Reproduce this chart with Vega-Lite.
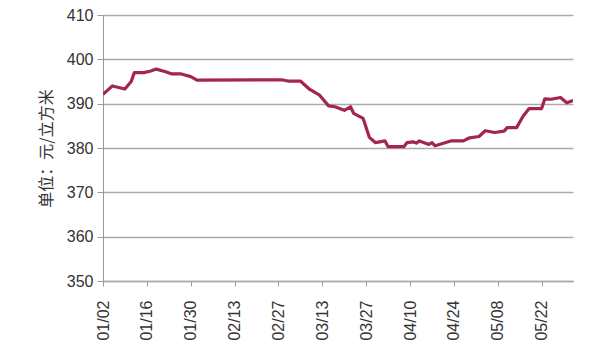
{
  "$schema": "https://vega.github.io/schema/vega-lite/v6.json",
  "width": 470,
  "height": 266,
  "autosize": {"type": "none"},
  "padding": {"left": 103, "top": 15, "right": 39, "bottom": 71},
  "background": "white",
  "config": {
    "view": {"stroke": null},
    "font": "Liberation Sans"
  },
  "data": {
    "values": [
      {"date": "2017/01/02", "price": 392.1},
      {"date": "2017/01/05", "price": 394.0},
      {"date": "2017/01/09", "price": 393.3},
      {"date": "2017/01/11", "price": 395.0},
      {"date": "2017/01/12", "price": 397.0},
      {"date": "2017/01/15", "price": 397.0},
      {"date": "2017/01/17", "price": 397.3},
      {"date": "2017/01/19", "price": 397.8},
      {"date": "2017/01/22", "price": 397.2},
      {"date": "2017/01/24", "price": 396.7},
      {"date": "2017/01/27", "price": 396.7},
      {"date": "2017/01/30", "price": 396.1},
      {"date": "2017/02/01", "price": 395.3},
      {"date": "2017/02/28", "price": 395.4},
      {"date": "2017/03/02", "price": 395.1},
      {"date": "2017/03/06", "price": 395.1},
      {"date": "2017/03/09", "price": 393.2},
      {"date": "2017/03/12", "price": 392.0},
      {"date": "2017/03/15", "price": 389.5},
      {"date": "2017/03/17", "price": 389.3},
      {"date": "2017/03/20", "price": 388.5},
      {"date": "2017/03/22", "price": 389.3},
      {"date": "2017/03/23", "price": 387.8},
      {"date": "2017/03/26", "price": 386.7},
      {"date": "2017/03/28", "price": 382.4},
      {"date": "2017/03/30", "price": 381.2},
      {"date": "2017/04/02", "price": 381.6},
      {"date": "2017/04/03", "price": 380.3},
      {"date": "2017/04/08", "price": 380.3},
      {"date": "2017/04/09", "price": 381.2},
      {"date": "2017/04/11", "price": 381.4},
      {"date": "2017/04/12", "price": 381.1},
      {"date": "2017/04/13", "price": 381.6},
      {"date": "2017/04/16", "price": 380.8},
      {"date": "2017/04/17", "price": 381.2},
      {"date": "2017/04/18", "price": 380.5},
      {"date": "2017/04/23", "price": 381.6},
      {"date": "2017/04/27", "price": 381.6},
      {"date": "2017/04/29", "price": 382.3},
      {"date": "2017/05/02", "price": 382.6},
      {"date": "2017/05/04", "price": 383.9},
      {"date": "2017/05/07", "price": 383.5},
      {"date": "2017/05/10", "price": 383.8},
      {"date": "2017/05/11", "price": 384.6},
      {"date": "2017/05/14", "price": 384.6},
      {"date": "2017/05/16", "price": 387.1},
      {"date": "2017/05/18", "price": 388.9},
      {"date": "2017/05/22", "price": 388.9},
      {"date": "2017/05/23", "price": 391.1},
      {"date": "2017/05/25", "price": 391.0},
      {"date": "2017/05/28", "price": 391.4},
      {"date": "2017/05/30", "price": 390.2},
      {"date": "2017/06/01", "price": 390.7}
    ]
  },
  "mark": {"type": "line", "color": "#a3264b", "strokeWidth": 3.2, "strokeJoin": "round", "clip": true},
  "encoding": {
    "x": {
      "field": "date",
      "type": "temporal",
      "scale": {"domain": [{"year": 2017, "month": 1, "date": 2}, {"year": 2017, "month": 6, "date": 1}]},
      "axis": {
        "title": null,
        "format": "%m/%d",
        "values": [
          {"year": 2017, "month": 1, "date": 2},
          {"year": 2017, "month": 1, "date": 16},
          {"year": 2017, "month": 1, "date": 30},
          {"year": 2017, "month": 2, "date": 13},
          {"year": 2017, "month": 2, "date": 27},
          {"year": 2017, "month": 3, "date": 13},
          {"year": 2017, "month": 3, "date": 27},
          {"year": 2017, "month": 4, "date": 10},
          {"year": 2017, "month": 4, "date": 24},
          {"year": 2017, "month": 5, "date": 8},
          {"year": 2017, "month": 5, "date": 22}
        ],
        "labelAngle": -90,
        "labelAlign": "right",
        "labelBaseline": "middle",
        "labelFontSize": 16,
        "labelColor": "#333333",
        "labelPadding": 14,
        "tickSize": 5,
        "tickColor": "#999999",
        "domainColor": "#aaaaaa",
        "domainWidth": 1.5,
        "grid": false,
        "labelFlush": false,
        "labelOverlap": false
      }
    },
    "y": {
      "field": "price",
      "type": "quantitative",
      "scale": {"domain": [350, 410], "zero": false, "nice": false},
      "axis": {
        "title": "单位：元/立方米",
        "titleFont": "Noto Sans CJK SC",
        "titleFontSize": 16,
        "titleFontWeight": "normal",
        "titleColor": "#333333",
        "titlePadding": 12,
        "values": [350, 360, 370, 380, 390, 400, 410],
        "labelFontSize": 16,
        "labelColor": "#333333",
        "labelPadding": 4,
        "tickSize": 6,
        "tickColor": "#999999",
        "domainColor": "#999999",
        "grid": true,
        "gridColor": "#aaaaaa",
        "gridWidth": 1.5
      }
    }
  }
}
